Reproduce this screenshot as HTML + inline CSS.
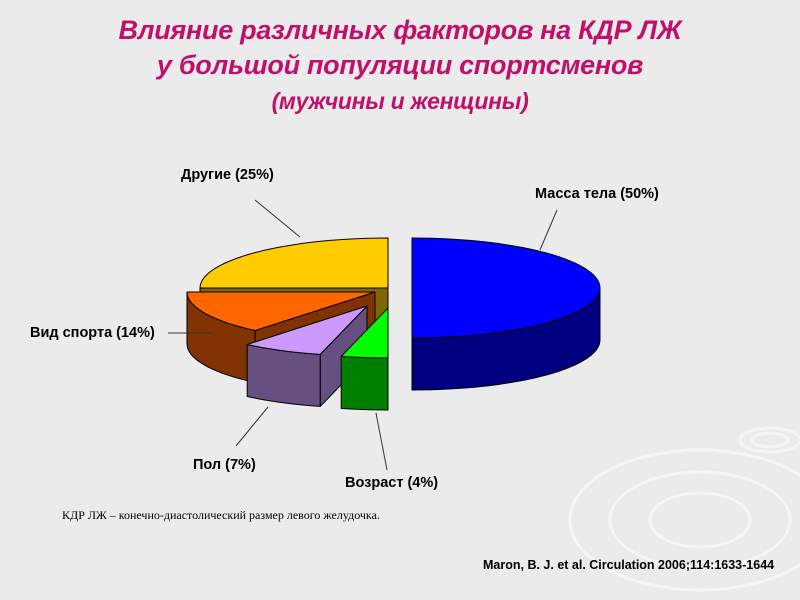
<!DOCTYPE html>
<html><head><meta charset="utf-8"><style>
html,body{margin:0;padding:0}
body{width:800px;height:600px;background:#ebebeb;position:relative;overflow:hidden;font-family:"Liberation Sans",sans-serif}
.t{position:absolute;left:0;width:800px;text-align:center;color:#c0106a;font-weight:bold;font-style:italic;letter-spacing:-0.3px}
.lbl{position:absolute;font-size:14.5px;font-weight:bold;color:#000;white-space:nowrap}
</style></head><body>
<div class="t" style="top:15px;font-size:27px">Влияние различных факторов на КДР ЛЖ</div>
<div class="t" style="top:50px;font-size:27px">у большой популяции спортсменов</div>
<div class="t" style="top:88px;font-size:23px">(мужчины и женщины)</div>
<svg id="chart" width="800" height="600" style="position:absolute;left:0;top:0">
<g fill="none" stroke="#f6f6f6" stroke-width="3">
<ellipse cx="700" cy="520" rx="130" ry="70"/><ellipse cx="700" cy="520" rx="90" ry="48"/><ellipse cx="700" cy="520" rx="50" ry="27"/>
<ellipse cx="770" cy="440" rx="30" ry="12"/><ellipse cx="770" cy="440" rx="18" ry="7"/>
</g>
</svg>
<div class="lbl" style="left:535px;top:186px">Масса тела (50%)</div>
<div class="lbl" style="left:181px;top:167px">Другие (25%)</div>
<div class="lbl" style="left:30px;top:325px">Вид спорта (14%)</div>
<div class="lbl" style="left:193px;top:457px">Пол (7%)</div>
<div class="lbl" style="left:345px;top:475px">Возраст (4%)</div>
<div class="lbl" style="left:62px;top:508px;font-family:'Liberation Serif',serif;font-size:12px;font-weight:normal">КДР ЛЖ – конечно-диастолический размер левого желудочка.</div>
<div class="lbl" style="left:483px;top:558px;font-size:12.5px">Maron, B. J. et al. Circulation 2006;114:1633-1644</div>
<script>
const categories=["Масса тела","Возраст","Пол","Вид спорта","Другие"];
const values=[50,4,7,14,25];
const topColors=["#0000ff","#00ff00","#cc99ff","#ff6600","#ffcc00"];
const sideColors=["#000080","#008000","#665080","#803300","#806600"];
const explodeX=[24,0,-21,-13,0];
const explodeY=[0,20,18,4,0];
const drawOrder=[4,3,2,1,0];
const cx=388,cy=288,rx=188,ry=50,depth=52;
const svg=document.getElementById('chart');
const NS='http://www.w3.org/2000/svg';
function pt(a,dx,dy,dz){const r=a*Math.PI/180;return [cx+dx+rx*Math.sin(r),cy+dy-ry*Math.cos(r)+dz];}
function arc(a1,a2,dx,dy,dz){let s='';const n=Math.max(2,Math.ceil(Math.abs(a2-a1)/3));for(let i=0;i<=n;i++){const p=pt(a1+(a2-a1)*i/n,dx,dy,dz);s+=(i?'L':'')+p[0].toFixed(1)+','+p[1].toFixed(1);}return s;}
function addPath(d,fill,name){const p=document.createElementNS(NS,'path');p.setAttribute('d',d);p.setAttribute('fill',fill);p.setAttribute('stroke','#000');p.setAttribute('stroke-width','1');p.setAttribute('stroke-linejoin','round');


svg.appendChild(p);}
const total=values.reduce((a,b)=>a+b,0);
const starts=[];let acc=0;values.forEach(v=>{starts.push(acc/total*360);acc+=v;});
drawOrder.forEach(i=>{
 const a1=starts[i],a2=a1+values[i]/total*360,dx=explodeX[i],dy=explodeY[i];
 const c=[cx+dx,cy+dy];
 if(Math.sin(a1*Math.PI/180)<-1e-6){const p=pt(a1,dx,dy,0);addPath(`M${c[0]},${c[1]}L${p[0]},${p[1]}L${p[0]},${p[1]+depth}L${c[0]},${c[1]+depth}Z`,sideColors[i],'slice-cut-face-'+i);}
 if(Math.sin(a2*Math.PI/180)>1e-6){const p=pt(a2,dx,dy,0);addPath(`M${c[0]},${c[1]}L${p[0]},${p[1]}L${p[0]},${p[1]+depth}L${c[0]},${c[1]+depth}Z`,sideColors[i],'slice-cut-face-'+i);}
 const b1=Math.max(a1,90),b2=Math.min(a2,270);
 if(b2>b1){addPath('M'+arc(b1,b2,dx,dy,0)+'L'+arc(b2,b1,dx,dy,depth)+'Z',sideColors[i],'slice-side-'+i);}
 addPath(`M${c[0]},${c[1]}L`+arc(a1,a2,dx,dy,0)+'Z',topColors[i],'slice-top-'+i);
});
const leaders=[[540,250,557,210],[300,237,255,200],[168,333,212,333],[268,407,236,446],[376,413,387,470]];
leaders.forEach((l,k)=>{const e=document.createElementNS(NS,'line');e.setAttribute('x1',l[0]);e.setAttribute('y1',l[1]);e.setAttribute('x2',l[2]);e.setAttribute('y2',l[3]);e.setAttribute('stroke','#333');e.setAttribute('stroke-width','1');


svg.appendChild(e);});
</script>
</body></html>
